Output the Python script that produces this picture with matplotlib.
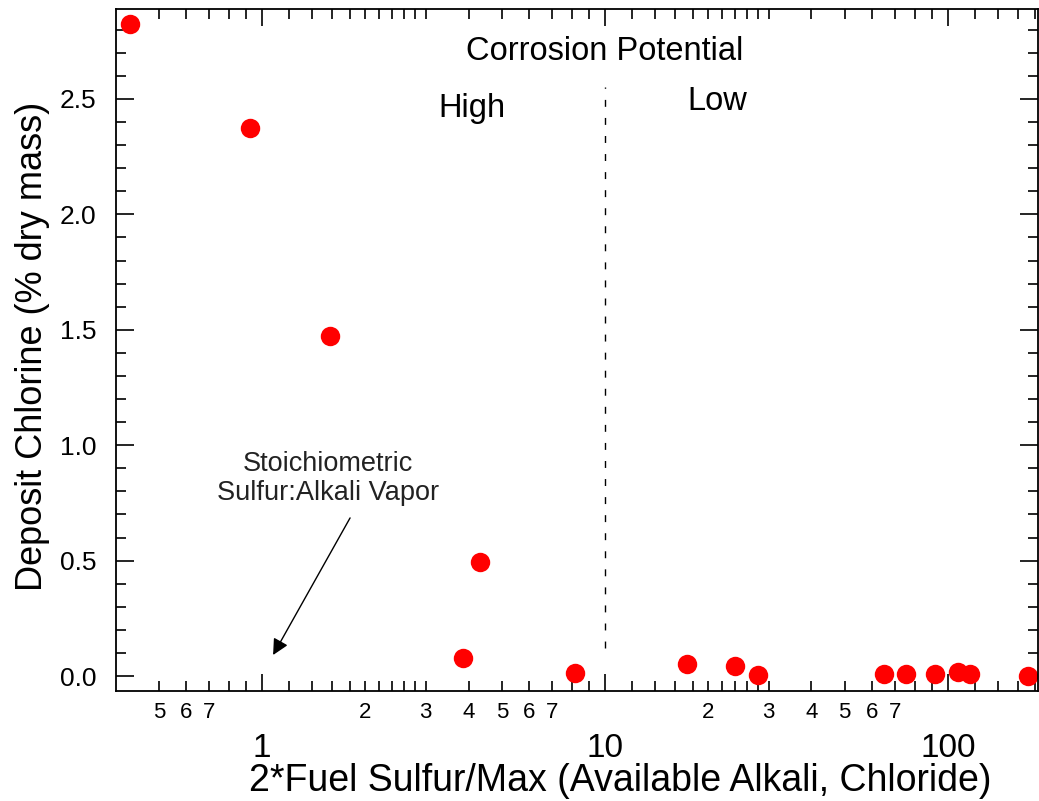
import numpy as np
import matplotlib
matplotlib.use('Agg')
import matplotlib.pyplot as plt
from matplotlib.ticker import FixedLocator, FuncFormatter

# data
sulfur_ratio = [0.412, 0.923, 1.58, 4.32, 3.85, 8.18, 17.3, 23.9, 28.0,
                65.2, 75.4, 91.6, 107.2, 115.9, 171.0]
deposit_cl = [2.826, 2.374, 1.474, 0.494, 0.078, 0.015, 0.051, 0.045, 0.004,
              0.007, 0.007, 0.007, 0.016, 0.010, 0.000]

major_x = [1, 10, 100]
minor_x = [0.5, 0.6, 0.7, 0.8, 0.9]
for d in [1, 10, 100]:
    minor_x += [d * m for m in [1.2, 1.4, 1.6, 1.8, 2.0, 2.2, 2.4, 2.6, 2.8, 3.0, 4, 5, 6, 7, 8, 9]]
minor_labels = {0.5: '5', 0.6: '6', 0.7: '7', 2: '2', 3: '3', 4: '4', 5: '5', 6: '6', 7: '7',
                20: '2', 30: '3', 40: '4', 50: '5', 60: '6', 70: '7'}

plt.rcParams['font.family'] = ['Liberation Sans', 'DejaVu Sans']

fig = plt.figure(figsize=(10.39, 8.01), dpi=100)
ax = fig.add_axes([0.1116, 0.1373, 0.8874, 0.8515])

ax.plot(sulfur_ratio, deposit_cl, 'o', color='#ff0000', markersize=14, markeredgewidth=0)

ax.set_xscale('log')
ax.set_xlim(0.375, 183)
ax.set_ylim(-0.065, 2.89)

# boundary between high / low corrosion potential
ax.plot([10, 10], [0.12, 2.55], color='black', lw=1, dashes=(5, 8))

ax.text(10, 2.705, 'Corrosion Potential', ha='center', va='center', fontsize=23.5)
ax.text(4.1, 2.46, 'High', ha='center', va='center', fontsize=23.5)
ax.text(21.3, 2.49, 'Low', ha='center', va='center', fontsize=23.5)

ax.text(1.557, 0.854, 'Stoichiometric\nSulfur:Alkali Vapor', ha='center', va='center',
        fontsize=19.5, linespacing=1.15, color='#222222')
ax.annotate('', xy=(1.077, 0.091), xytext=(1.806, 0.685),
            arrowprops=dict(arrowstyle='-|>', color='black', lw=1, mutation_scale=24,
                            shrinkA=0, shrinkB=0))

ax.xaxis.set_major_locator(FixedLocator(major_x))
ax.xaxis.set_minor_locator(FixedLocator(minor_x))
ax.xaxis.set_major_formatter(FuncFormatter(lambda v, p: '%g' % v))
ax.xaxis.set_minor_formatter(FuncFormatter(
    lambda v, p: minor_labels.get(round(v, 3), '')))
ax.set_yticks(np.arange(0, 2.6, 0.5))
ax.set_yticks(np.arange(0, 2.9, 0.1), minor=True)
ax.yaxis.set_major_formatter(FuncFormatter(lambda v, p: '%.1f' % v))

ax.tick_params(which='both', direction='in', top=True, right=True, width=1.2, colors='black')
ax.tick_params(axis='x', which='major', length=12, pad=30, labelsize=24)
ax.tick_params(axis='x', which='minor', length=7, pad=8, labelsize=16)
ax.tick_params(axis='y', which='major', length=13, pad=14, labelsize=19)
ax.tick_params(axis='y', which='minor', length=7)

for s in ax.spines.values():
    s.set_linewidth(1.3)

ax.set_xlabel('2*Fuel Sulfur/Max (Available Alkali, Chloride)', fontsize=27)
ax.set_ylabel('Deposit Chlorine (% dry mass)', fontsize=26)
ax.xaxis.set_label_coords(0.547, -0.106)
ax.yaxis.set_label_coords(-0.072, 0.505)

fig.savefig('out.png', dpi=100)
